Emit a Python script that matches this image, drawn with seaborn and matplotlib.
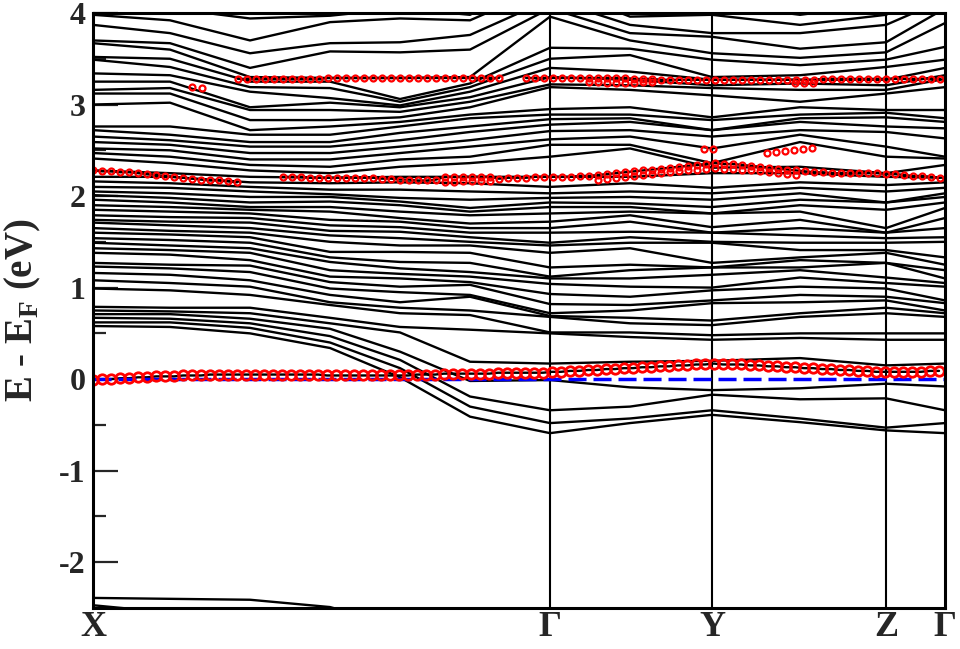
import numpy as np
import pandas as pd
import seaborn as sns
import matplotlib
matplotlib.use("Agg")
import matplotlib.pyplot as plt
from matplotlib.ticker import MultipleLocator

# k-path: node positions along X-G-Y-Z-G
k_nodes = [0.00, 0.77, 1.57, 2.37, 3.07, 3.77, 4.57, 5.37, 6.19, 7.07, 7.93, 8.52]
sym_k = [0.00, 4.57, 6.19, 7.93, 8.52]
sym_labels = ["X", "Γ", "Y", "Z", "Γ"]

# band energies (eV) at each node, sorted
e_n0 = [-2.47, -2.39, 0.58, 0.62, 0.67, 0.71, 0.75, 0.79, 0.99, 1.08,
        1.16, 1.23, 1.27, 1.38, 1.43, 1.49, 1.54, 1.60, 1.65, 1.71,
        1.74, 1.79, 1.85, 1.90, 1.96, 2.01, 2.05, 2.10, 2.16, 2.21,
        2.28, 2.41, 2.47, 2.52, 2.59, 2.65, 2.72, 2.76, 3.00, 3.12,
        3.16, 3.25, 3.34, 3.49, 3.52, 3.67, 3.70, 3.87, 3.98, 4.10]
e_n1 = [-2.55, -2.40, 0.57, 0.62, 0.66, 0.71, 0.74, 0.78, 0.97, 1.05,
        1.14, 1.21, 1.25, 1.36, 1.41, 1.46, 1.52, 1.58, 1.62, 1.68,
        1.72, 1.77, 1.83, 1.88, 1.93, 1.98, 2.03, 2.09, 2.14, 2.21,
        2.25, 2.36, 2.43, 2.50, 2.56, 2.61, 2.67, 2.76, 3.02, 3.12,
        3.18, 3.25, 3.32, 3.41, 3.50, 3.60, 3.67, 3.78, 3.92, 4.05]
e_n2 = [-2.60, -2.41, 0.50, 0.56, 0.61, 0.66, 0.72, 0.78, 0.92, 1.01,
        1.08, 1.17, 1.24, 1.30, 1.38, 1.43, 1.49, 1.55, 1.60, 1.65,
        1.71, 1.76, 1.81, 1.85, 1.88, 1.93, 1.99, 2.05, 2.10, 2.15,
        2.21, 2.28, 2.34, 2.40, 2.47, 2.54, 2.59, 2.67, 2.72, 2.83,
        2.94, 2.97, 3.14, 3.19, 3.25, 3.30, 3.40, 3.56, 3.70, 3.94]
e_n3 = [-2.65, -2.49, 0.34, 0.40, 0.47, 0.55, 0.61, 0.67, 0.81, 0.84,
        0.92, 0.99, 1.06, 1.12, 1.19, 1.28, 1.33, 1.39, 1.50, 1.57,
        1.62, 1.68, 1.74, 1.83, 1.88, 1.94, 1.99, 2.02, 2.07, 2.14,
        2.20, 2.25, 2.32, 2.40, 2.47, 2.54, 2.59, 2.67, 2.76, 2.83,
        2.94, 3.02, 3.07, 3.18, 3.25, 3.29, 3.58, 3.67, 3.90, 3.97]
e_n4 = [-2.80, -2.70, 0.02, 0.12, 0.21, 0.30, 0.51, 0.57, 0.72, 0.78,
        0.84, 0.95, 1.01, 1.10, 1.15, 1.21, 1.28, 1.39, 1.46, 1.54,
        1.61, 1.66, 1.72, 1.76, 1.83, 1.90, 1.94, 1.98, 2.07, 2.15,
        2.21, 2.32, 2.40, 2.47, 2.54, 2.61, 2.69, 2.76, 2.81, 2.86,
        2.92, 2.97, 2.99, 3.03, 3.06, 3.29, 3.57, 3.68, 3.94, 4.05]
e_n5 = [-3.00, -2.90, -0.41, -0.30, -0.19, -0.02, 0.19, 0.54, 0.70, 0.75,
        0.90, 0.92, 1.03, 1.06, 1.12, 1.17, 1.27, 1.38, 1.46, 1.50,
        1.55, 1.60, 1.65, 1.70, 1.79, 1.83, 1.87, 1.96, 2.05, 2.14,
        2.21, 2.36, 2.43, 2.54, 2.61, 2.70, 2.76, 2.85, 2.89, 2.97,
        3.03, 3.08, 3.14, 3.19, 3.23, 3.30, 3.60, 3.76, 3.92, 3.98]
e_n6 = [-3.20, -3.10, -0.59, -0.48, -0.34, -0.01, 0.17, 0.50, 0.51, 0.68,
        0.69, 0.72, 0.82, 0.93, 1.04, 1.10, 1.12, 1.22, 1.38, 1.46,
        1.49, 1.60, 1.65, 1.72, 1.81, 1.88, 1.93, 1.98, 2.03, 2.10,
        2.21, 2.43, 2.56, 2.62, 2.71, 2.78, 2.84, 2.89, 2.95, 3.19,
        3.22, 3.30, 3.40, 3.50, 3.62, 3.96, 4.05, 4.15, 4.30, 4.45]
e_n7 = [-3.20, -3.10, -0.48, -0.43, -0.30, -0.09, 0.19, 0.46, 0.51, 0.61,
        0.67, 0.75, 0.81, 0.90, 1.01, 1.10, 1.19, 1.25, 1.43, 1.49,
        1.55, 1.61, 1.72, 1.79, 1.83, 1.88, 1.92, 1.99, 2.05, 2.14,
        2.21, 2.52, 2.56, 2.65, 2.72, 2.81, 2.85, 2.89, 2.97, 3.16,
        3.21, 3.27, 3.36, 3.54, 3.61, 3.70, 3.78, 3.87, 3.96, 4.10]
e_n8 = [-3.20, -3.10, -0.39, -0.34, -0.17, -0.12, 0.20, 0.43, 0.48, 0.59,
        0.64, 0.83, 0.86, 0.97, 1.00, 1.14, 1.22, 1.22, 1.27, 1.49,
        1.50, 1.60, 1.60, 1.66, 1.81, 1.81, 1.88, 1.96, 2.03, 2.09,
        2.25, 2.31, 2.36, 2.52, 2.65, 2.72, 2.72, 2.83, 2.86, 3.10,
        3.18, 3.21, 3.27, 3.30, 3.49, 3.56, 3.74, 3.78, 3.98, 4.10]
e_n9 = [-3.20, -3.10, -0.47, -0.43, -0.22, -0.10, 0.23, 0.45, 0.50, 0.68,
        0.72, 0.84, 0.92, 1.01, 1.11, 1.19, 1.22, 1.30, 1.33, 1.41,
        1.49, 1.57, 1.65, 1.74, 1.83, 1.90, 1.96, 2.03, 2.09, 2.15,
        2.25, 2.32, 2.59, 2.67, 2.72, 2.81, 2.85, 2.89, 2.97, 3.03,
        3.16, 3.23, 3.27, 3.32, 3.43, 3.51, 3.61, 3.78, 3.87, 3.98]
e_n10 = [-3.20, -3.10, -0.56, -0.53, -0.21, -0.05, 0.15, 0.43, 0.50, 0.72,
         0.78, 0.86, 0.90, 0.99, 1.05, 1.11, 1.27, 1.27, 1.38, 1.41,
         1.49, 1.54, 1.60, 1.60, 1.65, 1.85, 1.93, 1.93, 2.05, 2.12,
         2.21, 2.25, 2.43, 2.54, 2.70, 2.76, 2.86, 2.91, 2.94, 3.12,
         3.16, 3.21, 3.27, 3.41, 3.49, 3.57, 3.68, 3.87, 3.98, 4.10]
e_n11 = [-3.20, -3.10, -0.59, -0.48, -0.34, -0.08, 0.17, 0.43, 0.50, 0.68,
         0.72, 0.75, 0.83, 0.86, 1.01, 1.05, 1.10, 1.19, 1.25, 1.33,
         1.50, 1.55, 1.65, 1.76, 1.87, 1.93, 1.99, 2.03, 2.09, 2.15,
         2.20, 2.34, 2.41, 2.43, 2.63, 2.74, 2.81, 2.85, 2.94, 3.19,
         3.28, 3.32, 3.40, 3.49, 3.63, 3.89, 4.05, 4.15, 4.30, 4.45]
columns = [e_n0, e_n1, e_n2, e_n3, e_n4, e_n5, e_n6, e_n7, e_n8, e_n9, e_n10, e_n11]

# projected (red) bands, one circle every 0.09 along k
step = 0.09
flat_band = [-0.01, 0.00, 0.00, 0.01, 0.01, 0.02, 0.02, 0.03, 0.03, 0.03, 0.04,
             0.04, 0.04, 0.05, 0.05, 0.05, 0.05, 0.05, 0.05, 0.05,
             0.05, 0.05, 0.05, 0.05, 0.05, 0.05, 0.04, 0.04, 0.04, 0.04, 0.04, 0.04, 0.04, 0.04, 0.04, 0.04,
             0.05, 0.05, 0.05, 0.06, 0.06, 0.06, 0.06, 0.06, 0.06, 0.07, 0.07, 0.07, 0.07, 0.07, 0.07,
             0.08, 0.08, 0.09, 0.09, 0.10, 0.10, 0.11, 0.11, 0.12, 0.12, 0.13, 0.13, 0.14, 0.14, 0.15, 0.15, 0.16, 0.16,
             0.17,
             0.16, 0.16, 0.16, 0.15, 0.15, 0.14, 0.14, 0.13, 0.13, 0.12, 0.12, 0.11, 0.11, 0.10, 0.10, 0.09, 0.09, 0.08,
             0.08, 0.08, 0.08, 0.08, 0.08, 0.09, 0.09]
flat_start = 0.0

band22_a = [2.28, 2.27, 2.27, 2.26, 2.26, 2.25, 2.24, 2.23, 2.22, 2.21, 2.20, 2.19, 2.18, 2.17, 2.17, 2.16, 2.15]
band22_a_start = 0.0
band22_b = [2.21, 2.21, 2.21, 2.20, 2.20, 2.20, 2.20, 2.20, 2.20, 2.20, 2.20,
            2.19, 2.19, 2.18, 2.18, 2.17, 2.17, 2.18,
            2.21, 2.21, 2.21, 2.21, 2.21, 2.21,
            2.19, 2.20, 2.20, 2.20, 2.21, 2.21,
            2.21, 2.21, 2.21, 2.22, 2.22,
            2.23, 2.24, 2.25, 2.26, 2.27, 2.28, 2.29, 2.30, 2.31, 2.32, 2.33, 2.34, 2.35,
            2.36,
            2.35, 2.35, 2.34, 2.33, 2.32, 2.31, 2.30, 2.29, 2.28, 2.27,
            2.26, 2.26, 2.25, 2.25, 2.25, 2.25, 2.25, 2.25, 2.24, 2.24, 2.23, 2.22, 2.22, 2.21, 2.20]
band22_b_start = 1.90
band22_low1 = [2.15, 2.15, 2.16, 2.16, 2.16, 2.16]
band22_low1_start = 3.52
band22_low2 = [2.18, 2.19, 2.20, 2.21, 2.22, 2.23, 2.24, 2.25, 2.26, 2.27, 2.28, 2.29, 2.30,
               2.31, 2.30, 2.30, 2.29, 2.28, 2.27, 2.26, 2.25, 2.24, 2.23]
band22_low2_start = 5.05

band33_dots_k = [0.99, 1.09]
band33_dots = [3.19, 3.18]
band33_a = [3.28] * 10 + [3.29] * 20
band33_a_start = 1.45
band33_b = ([3.29] * 12 + [3.28, 3.28, 3.28] + [3.27] * 18 + [3.28] * 14)
band33_b_start = 4.33
band33_low1 = [3.25, 3.25, 3.24, 3.24, 3.24, 3.24, 3.25, 3.25]
band33_low1_start = 4.96
band33_low2 = [3.23, 3.23, 3.24]
band33_low2_start = 7.02

band25_dots_k = [6.11, 6.20]
band25_dots = [2.51, 2.51]
band25_seg = [2.47, 2.48, 2.49, 2.50, 2.51, 2.52]
band25_seg_start = 6.74


def track_k(start, values):
    return start + step * np.arange(len(values))


rows = []
for kk, col in zip(k_nodes, columns):
    for b, e in enumerate(col):
        rows.append((b, kk, e))
df = pd.DataFrame(rows, columns=["band", "k", "E"])

sns.set_style("white")
plt.rcParams["font.family"] = ["Liberation Serif", "DejaVu Serif"]
plt.rcParams["font.weight"] = "bold"
plt.rcParams["axes.unicode_minus"] = False
plt.rcParams["mathtext.fontset"] = "custom"
plt.rcParams["mathtext.rm"] = "Liberation Serif:bold"

fig = plt.figure(figsize=(9.6, 6.49), dpi=100)
ax = fig.add_axes([0.0969, 0.0632, 0.8875, 0.9168])

sns.lineplot(data=df, x="k", y="E", units="band", estimator=None, sort=False,
             color="black", lw=1.7, legend=False, ax=ax, zorder=2)

# black lines under the projected bands
for start, vals in [(flat_start, flat_band), (band22_a_start, band22_a),
                    (band22_b_start, band22_b), (band33_a_start, band33_a),
                    (band33_b_start, band33_b)]:
    ax.plot(track_k(start, vals), vals, color="black", lw=1.7, zorder=2)

for kk in sym_k[1:-1]:
    ax.axvline(kk, color="black", lw=1.5, zorder=2)

ax.axhline(0, color="blue", lw=2.5, ls=(0, (5.2, 2.0)), zorder=3)

red = dict(ls="none", marker="o", mfc="none", mec="red", zorder=4)
ax.plot(track_k(flat_start, flat_band), flat_band, ms=6.8, mew=2.0, **red)
small_sets = [
    (track_k(band22_a_start, band22_a), band22_a),
    (track_k(band22_b_start, band22_b), band22_b),
    (track_k(band22_low1_start, band22_low1), band22_low1),
    (track_k(band22_low2_start, band22_low2), band22_low2),
    (band33_dots_k, band33_dots),
    (track_k(band33_a_start, band33_a), band33_a),
    (track_k(band33_b_start, band33_b), band33_b),
    (track_k(band33_low1_start, band33_low1), band33_low1),
    (track_k(band33_low2_start, band33_low2), band33_low2),
    (band25_dots_k, band25_dots),
    (track_k(band25_seg_start, band25_seg), band25_seg),
]
for kx, ey in small_sets:
    ax.plot(kx, ey, ms=4.3, mew=1.6, **red)

ax.set_xlim(0, 8.52)
ax.set_ylim(-2.5, 4)
ax.set_xticks(sym_k)
ax.set_xticklabels(sym_labels, fontsize=26, fontweight="bold")
ax.set_yticks(range(-2, 5))
ax.set_yticklabels([str(v) for v in range(-2, 5)], fontsize=23, fontweight="bold")
ax.yaxis.set_minor_locator(MultipleLocator(0.5))
ax.tick_params(axis="x", length=0, pad=2)
ax.tick_params(axis="y", which="major", direction="in", length=18, width=1.6,
               left=True, right=False, pad=5.5)
ax.tick_params(axis="y", which="minor", direction="in", length=9, width=1.6,
               left=True, right=False)
ax.set_xlabel("")
ax.set_ylabel(r"E - E$_\mathregular{F}$ (eV)", fontsize=28, fontweight="bold", labelpad=11)
for sp in ax.spines.values():
    sp.set_linewidth(2.2)
    sp.set_color("black")
    sp.set_zorder(5)

fig.savefig("out.png", dpi=100)
